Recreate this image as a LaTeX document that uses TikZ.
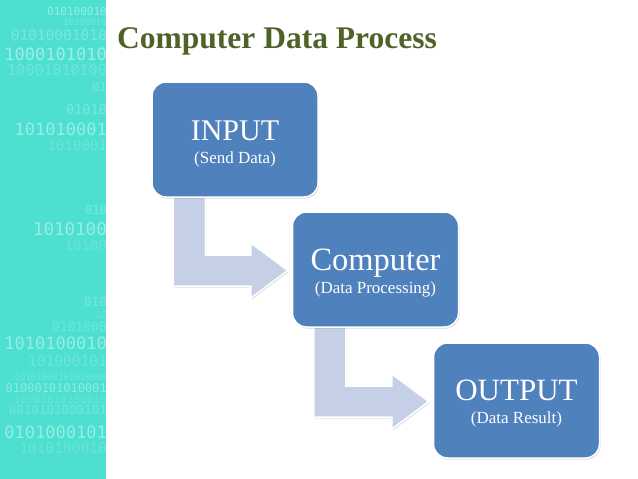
\documentclass[tikz,border=0pt]{standalone}
\usepackage{fontspec}
\setmainfont{Liberation Serif}
\setmonofont{DejaVu Sans Mono}
\usetikzlibrary{calc, shadows, backgrounds}
\definecolor{stripteal}{HTML}{4DE0D0}
\definecolor{boxblue}{HTML}{4F81BD}
\definecolor{flowgray}{HTML}{C5D0E6}
\definecolor{titlegreen}{HTML}{4F6228}
\newcommand{\subtextfont}{\fontsize{17}{23}\selectfont}

\begin{document}
\begin{tikzpicture}[
  x=1pt, y=-1pt,
  stepbox/.style={draw=white, line width=1.5pt, fill=boxblue, rounded corners=14pt,
    minimum width=166pt, minimum height=115pt,
    drop shadow={opacity=0.3, shadow xshift=1pt, shadow yshift=-1.5pt}},
  steptext/.style={text=white, align=center, font=\fontsize{#1}{23}\selectfont},
  steptext/.default=31,
  bentarrow/.style={fill=flowgray, draw=white, line width=1.5pt, line join=miter,
    drop shadow={opacity=0.25, shadow xshift=1pt, shadow yshift=-1.5pt}},
  bits/.style={text=white, anchor=east, inner sep=0pt}
]
  \useasboundingbox (0,0) rectangle (638,479);

  % Teal strip with binary digits
  \fill[stripteal] (0,0) rectangle (106,479);
  \begin{scope}
    \clip (0,0) rectangle (106,479);
    \foreach \yy/\sz/\op/\bb [count=\i] in {
      11/11/0.4/010100010, 22/9/0.2/10100010, 35/14.5/0.25/01010001010,
      54/17/0.45/1000101010, 70/15/0.18/10001010100, 87/12/0.25/01,
      110/13.5/0.25/01010, 129/17/0.42/101010001, 145/14/0.18/1010001,
      210/12/0.25/010, 229/17.5/0.42/1010100, 245/14/0.15/10100,
      302/12.5/0.25/010, 315/10/0.15/10, 327/13/0.2/0101000,
      343/17/0.42/1010100010, 361/14.5/0.18/101000101,
      377/9/0.2/10101000101010000, 388/12/0.35/01000101010001,
      399/11/0.15/10001010100010, 410/12.5/0.2/0010101000101,
      432/17/0.42/0101000101, 448/14.5/0.15/1010100010} {
      \node[bits, opacity=\op, font=\fontsize{\sz}{\sz}\selectfont\ttfamily] (bit\i) at (107,\yy) {\bb};
    }
  \end{scope}

  % Title
  \node[anchor=base west, inner sep=0pt, text=titlegreen,
    font=\fontsize{31.5}{36}\selectfont\bfseries] (title) at (117,48) {Computer Data Process};

  % Process steps
  \node[stepbox] (inp) at (235,139.5) {};
  \node[stepbox] (cmp) at (375.5,269.5) {};
  \node[stepbox] (out) at (516.5,400.5) {};

  \node[steptext=30] (inptxt) at ([yshift=-4pt]inp.center) {INPUT\\{\subtextfont (Send Data)}};
  \node[steptext=32.5] (cmptxt) at ([yshift=-3.5pt]cmp.center) {Computer\\{\subtextfont (Data Processing)}};
  \node[steptext=31] (outtxt) at ([yshift=-3pt]out.center) {OUTPUT\\{\subtextfont (Data Result)}};

  % Bent arrows between steps
  \begin{scope}[on background layer]
    \foreach \a/\b in {inp/cmp, cmp/out} {
      \filldraw[bentarrow] let \p1 = (\a.south west), \p2 = (\b.west) in
        (\x1+22pt,\y1+3pt) -- (\x1+54pt,\y1+3pt) -- (\x1+54pt,\y2+14.5pt)
        -- (\x2-41pt,\y2+14.5pt) -- (\x2-41pt,\y2+26.5pt) -- (\x2-4pt,\y2-1pt)
        -- (\x2-41pt,\y2-28.5pt) -- (\x2-41pt,\y2-16.5pt) -- (\x1+22pt,\y2-16.5pt) -- cycle;
    }
  \end{scope}
\end{tikzpicture}
\end{document}
